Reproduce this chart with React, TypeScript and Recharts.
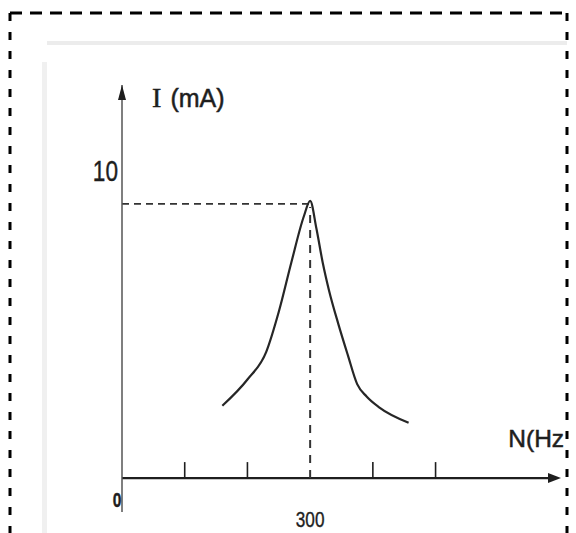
import { Line, LineChart, ReferenceDot, ReferenceLine, XAxis, YAxis } from "recharts";

// resonance curve
const freqHz = [160, 200, 230, 250, 270, 290, 300, 310, 320, 330, 345, 360, 375, 390, 410, 457];
const currentMa = [2.35, 3.2, 4.1, 5.4, 7.0, 8.5, 9.0, 8.1, 7.0, 6.1, 5.0, 4.0, 3.05, 2.65, 2.3, 1.8];
const labelledTicks = [0, 300];
const plainTicks = [100, 200, 400, 500];
const yTicks = [10];
const resonanceN = 300;
const resonanceI = 9.0;

const X_MAX = 700;
const Y_MIN = -1.1;
const Y_MAX = 12.76;
const TICK_LEN = 0.52;

const sans = "'Liberation Sans', Arial, Helvetica, sans-serif";
const ink = "#1e1e1e";

const data = freqHz.map((n, k) => ({ n, i: currentMa[k] }));

// condensed digits, like the scanned labels
function Squeezed(props: { x: number; y: number; size: number; anchor: string; bold?: boolean; children: any }) {
  return (
    <text
      transform={`translate(${props.x},${props.y}) scale(0.78,1)`}
      textAnchor={props.anchor}
      fontFamily={sans}
      fontSize={props.size}
      fontWeight={props.bold ? "bold" : "normal"}
      fill={ink}
      stroke={ink}
      strokeWidth={0.4}
    >
      {props.children}
    </text>
  );
}

function XTick(props: any) {
  const { x, y, payload } = props;
  if (payload.value === 0) {
    return (
      <Squeezed x={x - 5} y={y - 5} size={20} anchor="middle" bold>
        0
      </Squeezed>
    );
  }
  return (
    <Squeezed x={x} y={y + 15} size={22} anchor="middle">
      {payload.value}
    </Squeezed>
  );
}

function YTick(props: any) {
  const { x, y, payload } = props;
  return (
    <Squeezed x={x} y={y + 10.5} size={29} anchor="end">
      {payload.value}
    </Squeezed>
  );
}

const arrowRight = (p: any) => (
  <polygon points={`${p.cx},${p.cy} ${p.cx - 13},${p.cy - 5} ${p.cx - 13},${p.cy + 5}`} fill={ink} />
);
const arrowUp = (p: any) => (
  <polygon points={`${p.cx},${p.cy} ${p.cx - 4},${p.cy + 15} ${p.cx + 4},${p.cy + 15}`} fill={ink} />
);
const yTitle = (p: any) => (
  <text x={p.cx} y={p.cy} dy="0.36em" fontSize={25} fill={ink} stroke={ink} strokeWidth={0.5} fontFamily={sans}>
    <tspan fontFamily="'Liberation Serif', 'Times New Roman', serif" fontSize={28}>
      I
    </tspan>
    <tspan dx={9}>(mA)</tspan>
  </text>
);
const xTitle = (p: any) => (
  <text x={p.cx} y={p.cy} dy="0.36em" fontSize={24.5} fill={ink} stroke={ink} strokeWidth={0.5} fontFamily={sans}>
    N(Hz
  </text>
);

export default function App() {
  return (
    <div style={{ position: "absolute", left: 0, top: 0, width: 576, height: 533, background: "#fff" }}>
      <LineChart width={576} height={533} data={data} margin={{ top: 85, right: 15, bottom: 0, left: 82 }}>
        <XAxis
          type="number"
          dataKey="n"
          domain={[0, X_MAX]}
          allowDataOverflow
          ticks={labelledTicks}
          axisLine={false}
          tickLine={false}
          tickSize={0}
          tickMargin={0}
          height={21}
          tick={<XTick />}
        />
        <YAxis
          type="number"
          domain={[Y_MIN, Y_MAX]}
          allowDataOverflow
          ticks={yTicks}
          width={40}
          tickLine={false}
          tickSize={0}
          tickMargin={4}
          axisLine={{ stroke: "#555", strokeWidth: 1.5 }}
          tick={<YTick />}
        />
        <ReferenceLine segment={[{ x: 0, y: 0 }, { x: 690, y: 0 }]} stroke={ink} strokeWidth={2.2} />
        {plainTicks.map((n) => (
          <ReferenceLine key={n} segment={[{ x: n, y: 0 }, { x: n, y: TICK_LEN }]} stroke={ink} strokeWidth={1.6} />
        ))}
        <ReferenceLine
          segment={[{ x: 0, y: resonanceI - 0.1 }, { x: resonanceN, y: resonanceI - 0.1 }]}
          stroke="#333"
          strokeWidth={1.6}
          strokeDasharray="7 5"
        />
        <ReferenceLine
          segment={[{ x: resonanceN, y: 0 }, { x: resonanceN, y: resonanceI - 0.2 }]}
          stroke="#333"
          strokeWidth={2}
          strokeDasharray="8 7"
        />
        <ReferenceDot x={X_MAX} y={0} r={0} shape={arrowRight} />
        <ReferenceDot x={0} y={Y_MAX} r={0} shape={arrowUp} />
        <ReferenceDot x={48} y={12.35} r={0} shape={yTitle} />
        <ReferenceDot x={616} y={1.31} r={0} shape={xTitle} />
        <Line
          type="monotone"
          dataKey="i"
          stroke="#262626"
          strokeWidth={2.2}
          dot={false}
          isAnimationActive={false}
        />
      </LineChart>
      <svg width={576} height={533} style={{ position: "absolute", left: 0, top: 0, pointerEvents: "none" }}>
        <rect x={47} y={41} width={520} height={4} fill="#ececec" />
        <rect x={42} y={62} width={5} height={471} fill="#f0f0f0" />
        <line x1={10} y1={13} x2={567} y2={13} stroke="#000" strokeWidth={3} strokeDasharray="12 8" />
        <line x1={10} y1={13} x2={10} y2={533} stroke="#000" strokeWidth={3} strokeDasharray="8 11" />
        <line x1={567} y1={13} x2={567} y2={533} stroke="#000" strokeWidth={3} strokeDasharray="8 11" />
      </svg>
    </div>
  );
}
